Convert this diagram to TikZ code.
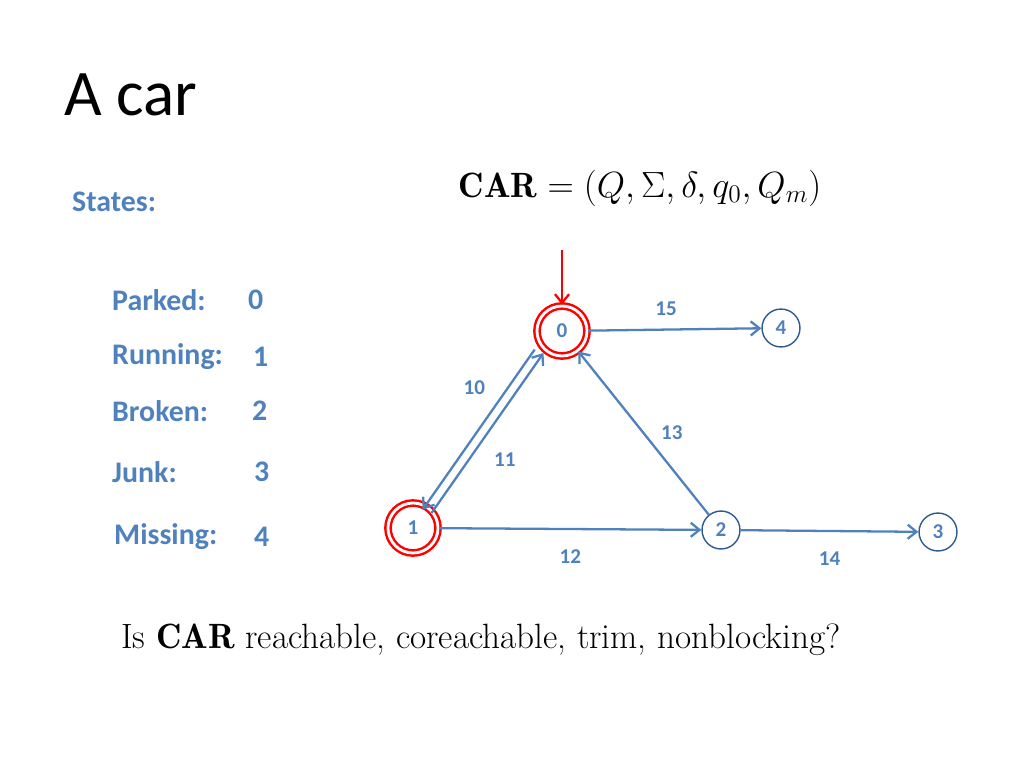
\documentclass[tikz,border=0pt]{standalone}
\usepackage{fontspec}
\setsansfont{Carlito}
\usetikzlibrary{arrows.meta}
\definecolor{edgeblue}{HTML}{4F81BD}
\definecolor{ringblue}{HTML}{2F5A8F}
\tikzset{
    state/.style={circle, draw=ringblue, thick, minimum size=38pt*0.02/0.0352, inner sep=0pt, font=\sffamily\bfseries\fontsize{12}{12}\selectfont, text=edgeblue},
    marked/.style={circle, draw=red, line width=1.4pt, double=white, double distance=1.6pt, minimum size=50*0.02cm, inner sep=0pt, font=\sffamily\bfseries\fontsize{12}{12}\selectfont, text=edgeblue},
    trans/.style={draw=edgeblue, line width=1.3pt, -{Straight Barb[length=5pt,width=8pt]}},
    elabel/.style={font=\sffamily\bfseries\fontsize{12}{12}\selectfont, text=edgeblue},
    statetxt/.style={anchor=west, font=\sffamily\bfseries\fontsize{17}{17}\selectfont, text=edgeblue}
}
\begin{document}
\begin{tikzpicture}[x=0.02cm, y=-0.02cm]
    \useasboundingbox (0,0) rectangle (1024,768);

    % title and left column
    \node[anchor=base west, font=\sffamily\fontsize{37}{37}\selectfont] (title) at (58,115) {A car};
    \node[statetxt] (states) at (66,202) {States:};
    \node[statetxt] (parked) at (106,300) {Parked:};
    \node[statetxt] (v0) at (242,300) {0};
    \node[statetxt] (running) at (106,357) {Running:};
    \node[statetxt] (v1) at (247,357) {1};
    \node[statetxt] (broken) at (106,411) {Broken:};
    \node[statetxt] (v2) at (246,411) {2};
    \node[statetxt] (junk) at (106,472) {Junk:};
    \node[statetxt] (v3) at (248,472) {3};
    \node[statetxt] (missing) at (108,537) {Missing:};
    \node[statetxt] (v4) at (248,537) {4};

    % formulas
    \node[font=\fontsize{20}{20}\selectfont] (car) at (640,188) {$\mathbf{CAR} = (Q, \Sigma, \delta, q_0, Q_m)$};
    \node[font=\fontsize{20}{20}\selectfont] (question) at (481,640) {Is $\mathbf{CAR}$ reachable, coreachable, trim, nonblocking?};

    % automaton
    \node[marked] (s0) at (562,331) {0};
    \node[marked] (s1) at (413,528) {1};
    \node[state] (s2) at (721,530) {2};
    \node[state] (s3) at (938,532) {3};
    \node[state] (s4) at (781,328) {4};
    \coordinate (init) at (562,250);

    \draw[trans, draw=red] (init) -- (s0);
    \draw[trans] (s0) -- (s4) node[elabel, pos=0.45, above=4pt] {15};
    \draw[trans] ([xshift=-5pt]s0.south west) -- ([xshift=-5pt]s1.north east) node[elabel, pos=0.35, above left=2pt] {10};
    \draw[trans] ([yshift=-2pt]s1.north east) -- ([yshift=-2pt]s0.south west) node[elabel, pos=0.45, below right=3pt] {11};
    \draw[trans] (s2) -- (s0) node[elabel, pos=0.5, right=6pt] {13};
    \draw[trans] (s1) -- (s2) node[elabel, pos=0.5, below=8pt] {12};
    \draw[trans] (s2) -- (s3) node[elabel, pos=0.5, below=8pt] {14};
\end{tikzpicture}
\end{document}
